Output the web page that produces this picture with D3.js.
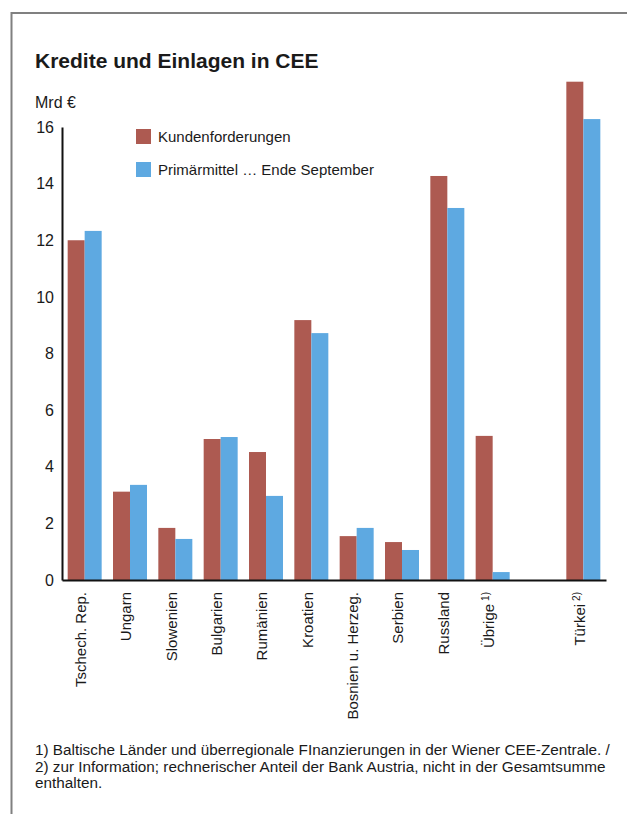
<!DOCTYPE html>
<html>
<head>
<meta charset="utf-8">
<script src="https://cdn.jsdelivr.net/npm/d3@7"></script>
<style>
  html, body { margin: 0; padding: 0; background: #fff; }
  svg { display: block; }
  text { font-family: "Liberation Sans", Arial, Helvetica, sans-serif; fill: #1a1a1a; }
</style>
</head>
<body>
<svg id="chart" width="627" height="814"></svg>
<script>
// Loans and deposits by country, EUR bn
const categories = ["Tschech. Rep.", "Ungarn", "Slowenien", "Bulgarien", "Rumänien", "Kroatien",
                    "Bosnien u. Herzeg.", "Serbien", "Russland", "Übrige", "Türkei"];
const notes = ["", "", "", "", "", "", "", "", "", "1)", "2)"];
const kundenforderungen = [12.0, 3.12, 1.84, 4.98, 4.52, 9.18, 1.55, 1.34, 14.27, 5.09, 17.6];
const primaermittel     = [12.33, 3.36, 1.45, 5.05, 2.97, 8.72, 1.84, 1.06, 13.14, 0.28, 16.28];
const seriesNames = ["Kundenforderungen", "Primärmittel … Ende September"];
const seriesColors = ["#ad5a51", "#5ea9e1"];
const yTicks = [0, 2, 4, 6, 8, 10, 12, 14, 16];
const footnotes = [
  "1) Baltische Länder und überregionale FInanzierungen in der Wiener CEE-Zentrale. /",
  "2) zur Information; rechnerischer Anteil der Bank Austria, nicht in der Gesamtsumme",
  "enthalten."
];

const svg = d3.select("#chart");

// frame
svg.append("path")
  .attr("d", "M11.5,814 V13 H627")
  .attr("fill", "none").attr("stroke", "#808080").attr("stroke-width", 2);

// title and unit
svg.append("text").attr("x", 35).attr("y", 68)
  .attr("font-size", 21).attr("font-weight", "bold")
  .text("Kredite und Einlagen in CEE");
svg.append("text").attr("x", 35).attr("y", 108)
  .attr("font-size", 16).text("Mrd €");

// band domain keeps an empty slot between "Übrige" and "Türkei"
const slots = categories.slice(0, 10).concat(["__gap"], categories.slice(10));
const x = d3.scaleBand().domain(slots).range([62, 606]).paddingInner(0.25).paddingOuter(0.125);
const y = d3.scaleLinear().domain([0, 16]).range([580, 127]);

const rows = categories.map((c, i) => ({ cat: c, note: notes[i], vals: [kundenforderungen[i], primaermittel[i]] }));
const half = x.bandwidth() / 2;

const groups = svg.append("g").selectAll("g").data(rows).join("g")
  .attr("transform", d => `translate(${x(d.cat)},0)`);
groups.selectAll("rect").data(d => d.vals).join("rect")
  .attr("x", (v, j) => j * half)
  .attr("width", half)
  .attr("y", v => y(v))
  .attr("height", v => y(0) - y(v))
  .attr("fill", (v, j) => seriesColors[j]);

// y axis: line and labels, no tick marks
const yAxis = svg.append("g").attr("transform", "translate(62,0)")
  .call(d3.axisLeft(y).tickValues(yTicks).tickSize(0).tickPadding(8).tickFormat(d3.format("d")));
yAxis.select(".domain").attr("stroke", "#111").attr("stroke-width", 2);
yAxis.selectAll("text").attr("font-size", 16).attr("font-family", null).attr("fill", "#1a1a1a");

// x axis baseline
const xAxis = svg.append("g").attr("transform", `translate(0,${y(0)})`)
  .call(d3.axisBottom(x).tickSize(0).tickFormat(""));
xAxis.select(".domain").attr("stroke", "#111").attr("stroke-width", 2);

// rotated category labels
const lab = svg.append("g").selectAll("text").data(rows).join("text")
  .attr("transform", d => `translate(${x(d.cat) + half - 4},592) rotate(-90)`)
  .attr("text-anchor", "end")
  .attr("dy", "0.35em")
  .attr("font-size", 15);
lab.append("tspan").text(d => d.cat);
lab.filter(d => d.note).append("tspan")
  .attr("font-size", 10).attr("dx", 3).attr("dy", -5)
  .text(d => d.note);

// legend
const leg = svg.append("g").selectAll("g").data(seriesNames).join("g")
  .attr("transform", (d, i) => `translate(136,${129 + i * 33})`);
leg.append("rect").attr("width", 15).attr("height", 15).attr("fill", (d, i) => seriesColors[i]);
leg.append("text").attr("x", 22).attr("y", 13).attr("font-size", 15).text(d => d);

// footnotes
svg.append("g").selectAll("text").data(footnotes).join("text")
  .attr("x", 35).attr("y", (d, i) => 755 + i * 16.5)
  .attr("font-size", 15.3).text(d => d);
</script>
</body>
</html>
